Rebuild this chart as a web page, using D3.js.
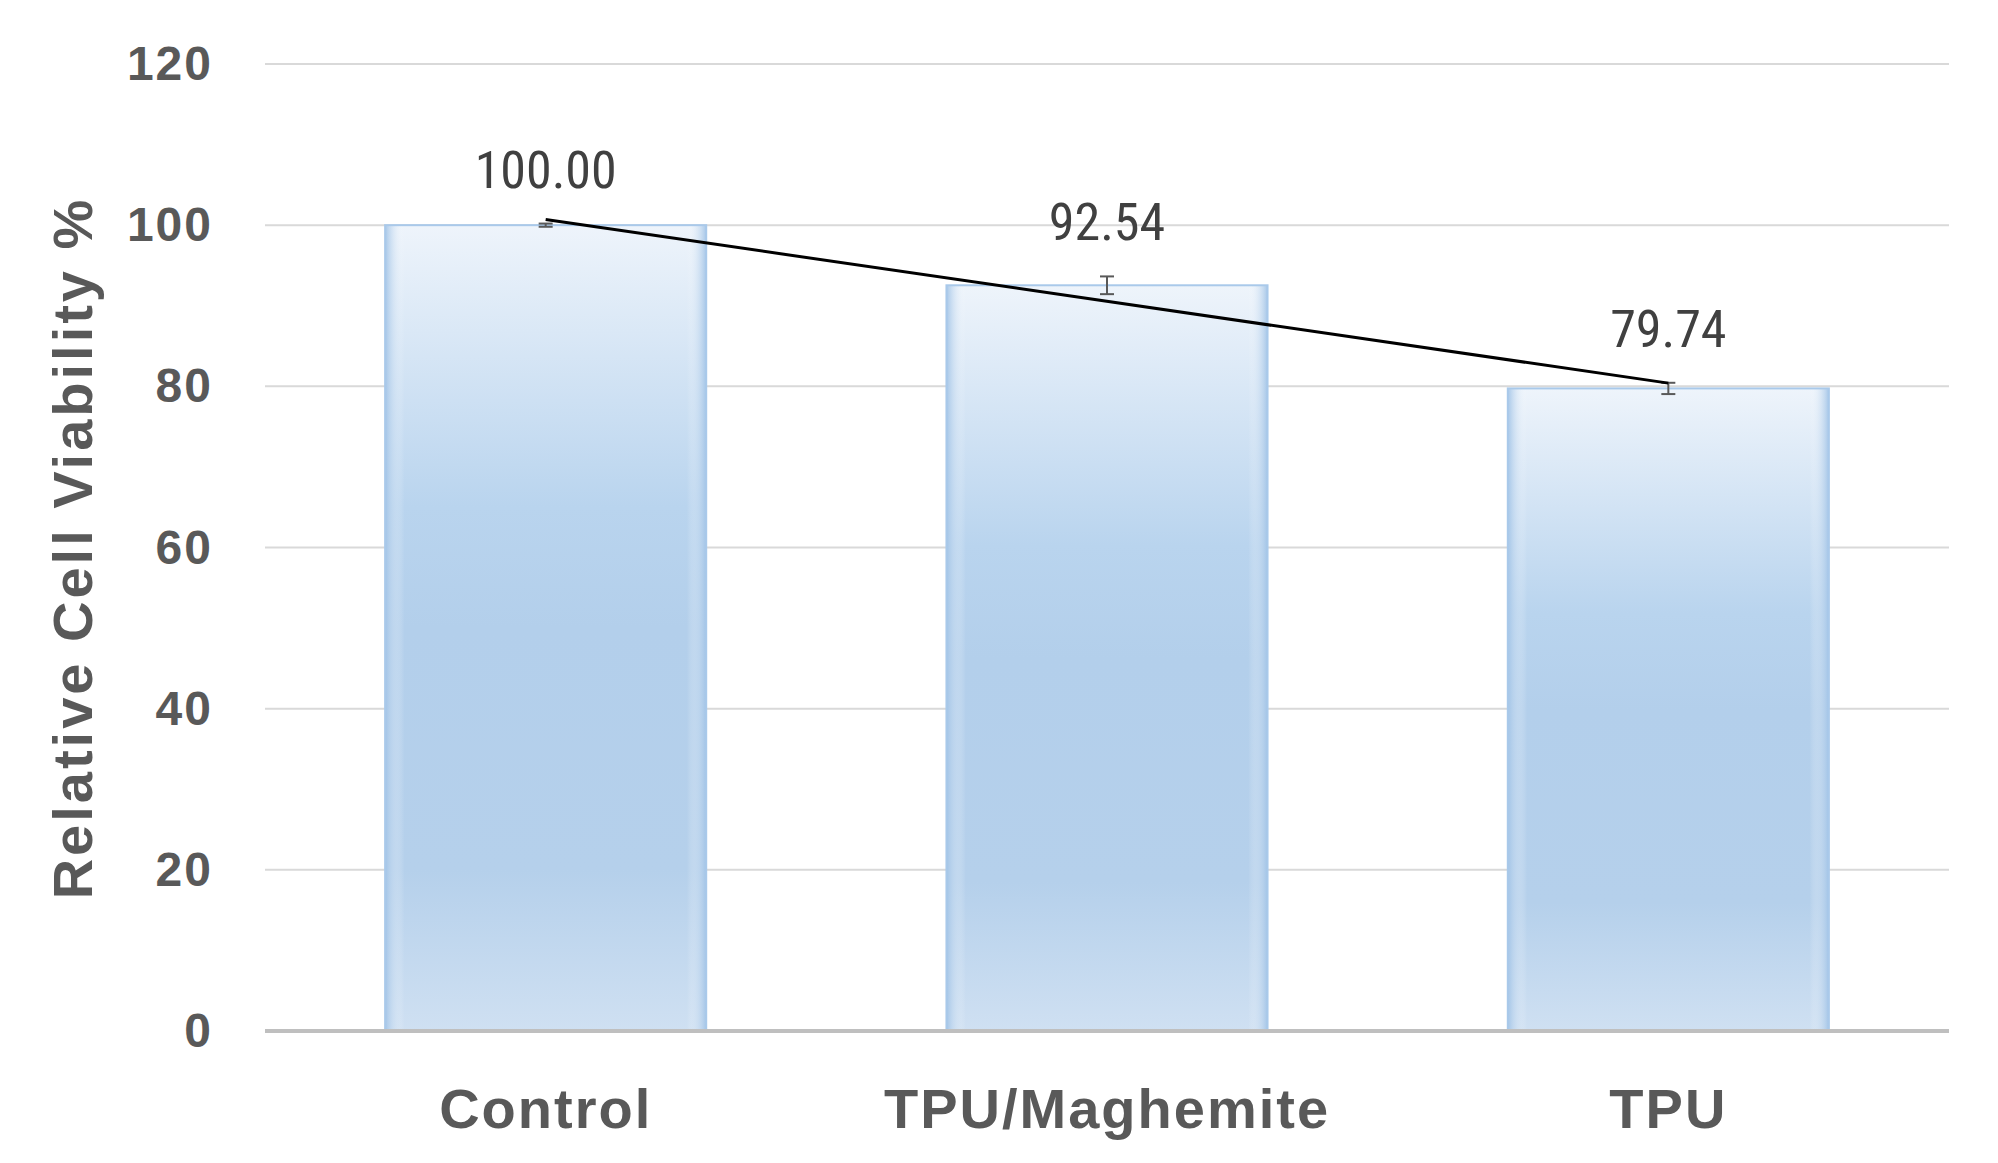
<!DOCTYPE html>
<html><head><meta charset="utf-8">
<script src="https://cdn.jsdelivr.net/npm/d3@7"></script>
<style>body{margin:0;background:#fff}</style></head>
<body><svg id="c" width="1998" height="1163"></svg>
<script>
const categories = ["Control","TPU/Maghemite","TPU"];
const values = [100.00, 92.54, 79.74];
const errors = [0.2, 1.1, 0.7];
const trendEnds = [100.7, 80.4];
const yTicks = [0,20,40,60,80,100,120];

const svg = d3.select("#c");
const m = {l:265, r:49, t:64, b:132};
const W = 1998, H = 1163;
const x = d3.scaleBand().domain(categories).range([m.l, W-m.r]).paddingInner(0.428).paddingOuter(0.214);
const y = d3.scaleLinear().domain([0,120]).range([H-m.b, m.t]);

const defs = svg.append("defs");
const g = defs.append("linearGradient").attr("id","bg").attr("x1",0).attr("y1",0).attr("x2",0).attr("y2",1);
[[0,"#eef4fb"],[0.35,"#b9d4ee"],[0.5,"#b3cfeb"],[0.8,"#b5d0eb"],[1,"#cfe0f2"]].forEach(s=>g.append("stop").attr("offset",s[0]).attr("stop-color",s[1]));
const gh = defs.append("linearGradient").attr("id","bh").attr("x1",0).attr("y1",0).attr("x2",1).attr("y2",0);
[[0,"#9fc2e6",0.9],[0.06,"#ffffff",0],[0.94,"#ffffff",0],[1,"#9fc2e6",0.9]].forEach(s=>gh.append("stop").attr("offset",s[0]).attr("stop-color",s[1]).attr("stop-opacity",s[2]));

svg.append("g").selectAll("line").data(yTicks.filter(d=>d>0)).join("line")
  .attr("x1",m.l).attr("x2",W-m.r).attr("y1",d=>y(d)).attr("y2",d=>y(d))
  .attr("stroke","#d9d9d9").attr("stroke-width",2);

const bars = svg.append("g").selectAll("g").data(categories).join("g");
bars.append("rect").attr("x",d=>x(d)).attr("width",x.bandwidth())
  .attr("y",(d,i)=>y(values[i])).attr("height",(d,i)=>y(0)-y(values[i])).attr("fill","url(#bg)");
bars.append("rect").attr("x",d=>x(d)).attr("width",x.bandwidth())
  .attr("y",(d,i)=>y(values[i])).attr("height",(d,i)=>y(0)-y(values[i])).attr("fill","url(#bh)")
  .attr("stroke","#a9c9ea").attr("stroke-width",2);

svg.append("line").attr("x1",m.l).attr("x2",W-m.r).attr("y1",y(0)).attr("y2",y(0)).attr("stroke","#bfbfbf").attr("stroke-width",4);

const eb = svg.append("g").attr("stroke","#595959").attr("stroke-width",2);
categories.forEach((c,i)=>{
  const cx = x(c)+x.bandwidth()/2;
  eb.append("line").attr("x1",cx).attr("x2",cx).attr("y1",y(values[i]+errors[i])).attr("y2",y(values[i]-errors[i]));
  [1,-1].forEach(s=>eb.append("line").attr("x1",cx-7).attr("x2",cx+7).attr("y1",y(values[i]+s*errors[i])).attr("y2",y(values[i]+s*errors[i])));
});

svg.append("line")
  .attr("x1",x(categories[0])+x.bandwidth()/2).attr("y1",y(trendEnds[0]))
  .attr("x2",x(categories[2])+x.bandwidth()/2).attr("y2",y(trendEnds[1]))
  .attr("stroke","#000").attr("stroke-width",3);

svg.append("g").selectAll("text").data(categories).join("text")
  .attr("x",d=>x(d)+x.bandwidth()/2).attr("y",(d,i)=>y(values[i]+errors[i])-36)
  .attr("text-anchor","middle").attr("font-family","Liberation Sans Narrow, Roboto Condensed, Liberation Sans, sans-serif")
  .attr("font-size",52).attr("fill","#404040").text((d,i)=>values[i].toFixed(2));

svg.append("g").selectAll("text").data(yTicks).join("text")
  .attr("x",213).attr("y",d=>y(d)+16).attr("text-anchor","end")
  .attr("font-family","Liberation Sans, Arial, sans-serif").attr("font-weight","bold")
  .attr("font-size",48).attr("letter-spacing",2).attr("fill","#595959").text(d=>d);

svg.append("g").selectAll("text").data(categories).join("text")
  .attr("x",d=>x(d)+x.bandwidth()/2).attr("y",1128).attr("text-anchor","middle")
  .attr("font-family","Liberation Sans, Arial, sans-serif").attr("font-weight","bold")
  .attr("font-size",56).attr("letter-spacing",2).attr("fill","#595959").text(d=>d);

svg.append("text").attr("transform","translate(92,548) rotate(-90)").attr("text-anchor","middle")
  .attr("font-family","Liberation Sans, Arial, sans-serif").attr("font-weight","bold")
  .attr("font-size",56).attr("letter-spacing",3).attr("fill","#595959").text("Relative Cell Viability %");
</script></body></html>
